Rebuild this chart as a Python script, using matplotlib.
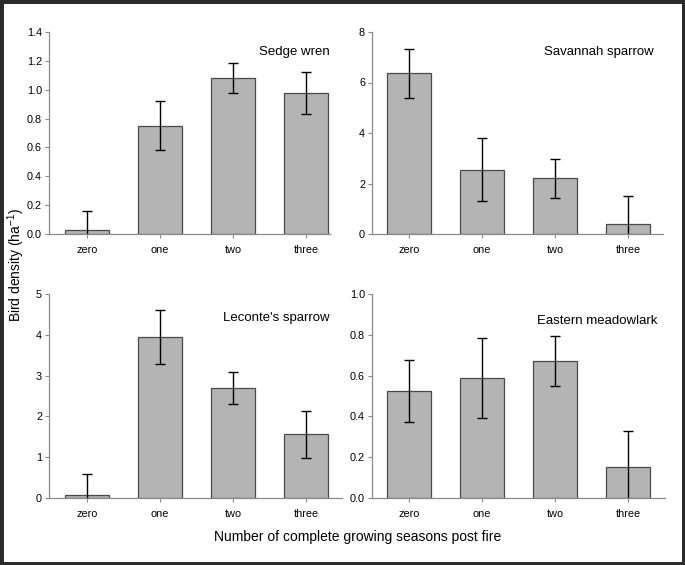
import numpy as np
import matplotlib
matplotlib.use("Agg")
import matplotlib.pyplot as plt
from matplotlib.patches import Rectangle

plt.rcParams['font.family'] = ['Liberation Sans', 'DejaVu Sans']
plt.rcParams['mathtext.fontset'] = 'custom'
plt.rcParams['mathtext.rm'] = 'Liberation Sans'
plt.rcParams['mathtext.it'] = 'Liberation Sans'
plt.rcParams['mathtext.default'] = 'regular'

categorias = ['zero', 'one', 'two', 'three']

especies = ['Sedge wren', 'Savannah sparrow', "Leconte's sparrow", 'Eastern meadowlark']

sedge_media = [0.03, 0.75, 1.08, 0.975]
sedge_error = [0.13, 0.17, 0.105, 0.145]

savannah_media = [6.36, 2.54, 2.21, 0.41]
savannah_error = [0.96, 1.25, 0.77, 1.09]

leconte_media = [0.08, 3.95, 2.70, 1.56]
leconte_error = [0.52, 0.66, 0.40, 0.57]

meadowlark_media = [0.523, 0.587, 0.672, 0.151]
meadowlark_error = [0.152, 0.197, 0.121, 0.175]

ytop = [1.4, 8, 5, 1.0]
ypaso = [0.2, 2, 1, 0.2]
yfmt = ['{:.1f}', '{:.0f}', '{:.0f}', '{:.1f}']

medias = [sedge_media, savannah_media, leconte_media, meadowlark_media]
errores = [sedge_error, savannah_error, leconte_error, meadowlark_error]

W, H = 685, 565
fig = plt.figure(figsize=(W / 100, H / 100), dpi=100)

# cajas en pixeles: izquierda, derecha, y0, ytope
cajas = [(49, 330, 234, 32), (372, 663, 234, 32),
         (49, 342, 498, 294), (372, 665, 498, 294)]
centro0 = [87, 409, 87, 409]
paso = 73.0
# posicion del nombre de la especie (pixeles, borde derecho y centro)
nombre_xy = [(330, 52), (654, 52), (330, 318), (657, 321)]

gris_eje = '#8a8a8a'
for i in range(4):
    izq, der, y0, yt = cajas[i]
    ax = fig.add_axes([izq / W, 1 - y0 / H, (der - izq) / W, (y0 - yt) / H])
    x = np.arange(len(categorias))
    ax.bar(x, medias[i], width=0.6, color='#b4b4b4', edgecolor='#4a4a4a', linewidth=0.9, zorder=2)
    ax.errorbar(x, medias[i], yerr=errores[i], fmt='none', ecolor='black',
                elinewidth=1.0, capsize=3.3, capthick=1.0, zorder=3)
    ax.set_xlim((izq - centro0[i]) / paso, (der - centro0[i]) / paso)
    ax.set_ylim(0, ytop[i])
    ticks = np.arange(0, ytop[i] + ypaso[i] / 2, ypaso[i])
    ax.set_yticks(ticks)
    ax.set_yticklabels([yfmt[i].format(t) for t in ticks])
    ax.set_xticks(x)
    ax.set_xticklabels(categorias)
    for lado in ['top', 'right']:
        ax.spines[lado].set_visible(False)
    for lado in ['left', 'bottom']:
        ax.spines[lado].set_color(gris_eje)
        ax.spines[lado].set_linewidth(0.9)
    ax.tick_params(axis='y', length=3, width=0.8, color=gris_eje, labelsize=7.8, pad=2)
    ax.tick_params(axis='x', length=3, width=0.8, color=gris_eje, labelsize=7.8, pad=5)
    nx, ny = nombre_xy[i]
    fig.text(nx / W, 1 - ny / H, especies[i], ha='right', va='center', fontsize=9.5)

fig.text(16 / W, 1 - 265 / H, 'Bird density (ha$^{-1}$)', rotation=90, ha='center', va='center', fontsize=10)
fig.text(358 / W, 1 - 537 / H, 'Number of complete growing seasons post fire', ha='center', va='center', fontsize=10)

fig.patches.append(Rectangle((0, 0), 1, 1, transform=fig.transFigure, fill=False,
                             edgecolor='#2a2a2a', linewidth=5, zorder=10))

fig.savefig('out.png', dpi=100)
